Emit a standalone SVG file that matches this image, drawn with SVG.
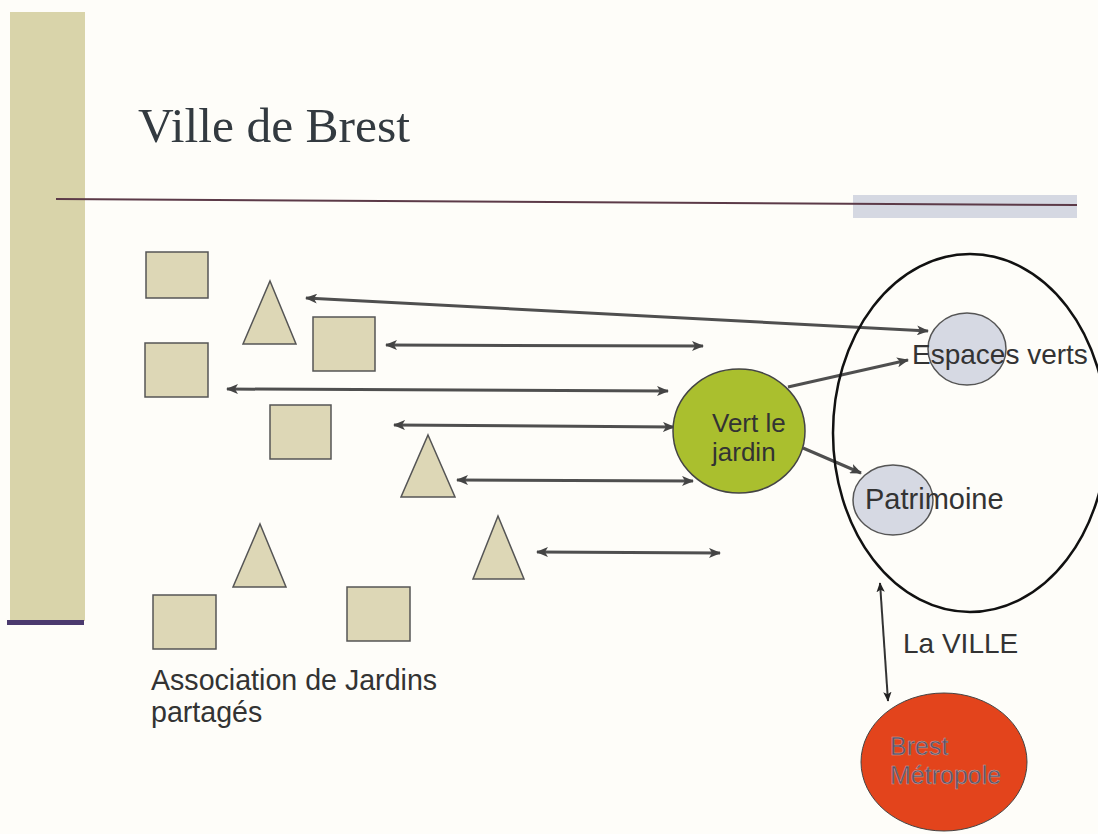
<svg xmlns="http://www.w3.org/2000/svg" width="1098" height="834" viewBox="0 0 1098 834">
<style>
  .shape { fill: #ddd7b6; stroke: #555; stroke-width: 1.5; }
  .conn { stroke: #4f4f4f; stroke-width: 3; fill: none; }
  .thin { stroke: #333; stroke-width: 2; fill: none; }
  .lbl { font-family: "Liberation Sans", Arial, sans-serif; fill: #333; }
  .sub { fill: #d6d9e3; stroke: #555; stroke-width: 1.5; }
  .bm { font-family: "Liberation Sans", Arial, sans-serif; fill: #58536c; stroke: #c9a9a0; stroke-width: 0.4; }
</style>
<defs>
  <marker id="ah" markerUnits="userSpaceOnUse" viewBox="0 0 12 10" markerWidth="12" markerHeight="10" refX="11" refY="5" orient="auto-start-reverse">
    <path d="M0,0 L12,5 L0,10 L3,5 z" fill="#444"/>
  </marker>
  <marker id="ahs" markerUnits="userSpaceOnUse" viewBox="0 0 12 10" markerWidth="10" markerHeight="9" refX="11" refY="5" orient="auto-start-reverse">
    <path d="M0,0 L12,5 L0,10 L3,5 z" fill="#222"/>
  </marker>
</defs>
<rect width="1098" height="834" fill="#fefdf9"/>

<g id="decor">
  <rect x="10" y="12" width="75" height="609" fill="#d9d4aa"/>
  <rect x="7" y="620" width="77" height="5" fill="#4b3a6e"/>
  <rect x="853" y="195" width="224" height="23" fill="#d5d8e2"/>
  <line x1="56" y1="199" x2="1077" y2="205" stroke="#5c3a48" stroke-width="2"/>
  <text x="138" y="142" font-family="'Liberation Serif', 'Times New Roman', serif" font-size="49.5" fill="#333a40">Ville de Brest</text>
</g>

<g id="connectors">
  <line class="conn" x1="306" y1="298" x2="928" y2="331" marker-start="url(#ah)" marker-end="url(#ah)"/>
  <line class="conn" x1="386" y1="345" x2="703" y2="346" marker-start="url(#ah)" marker-end="url(#ah)"/>
  <line class="conn" x1="227" y1="389" x2="668" y2="391" marker-start="url(#ah)" marker-end="url(#ah)"/>
  <line class="conn" x1="394" y1="425" x2="674" y2="427" marker-start="url(#ah)" marker-end="url(#ah)"/>
  <line class="conn" x1="457" y1="480" x2="693" y2="481" marker-start="url(#ah)" marker-end="url(#ah)"/>
  <line class="conn" x1="537" y1="552" x2="720" y2="553" marker-start="url(#ah)" marker-end="url(#ah)"/>
  <line class="conn" x1="788" y1="387" x2="908" y2="360" marker-end="url(#ah)"/>
  <line class="conn" x1="803" y1="448" x2="861" y2="473" marker-end="url(#ah)"/>
  <line class="thin" x1="880" y1="583" x2="888" y2="701" marker-start="url(#ahs)" marker-end="url(#ahs)"/>
</g>

<g id="associations">
  <rect class="shape" x="146" y="252" width="62" height="46"/>
  <rect class="shape" x="145" y="343" width="63" height="54"/>
  <rect class="shape" x="313" y="317" width="62" height="54"/>
  <rect class="shape" x="270" y="405" width="61" height="54"/>
  <rect class="shape" x="153" y="595" width="63" height="54"/>
  <rect class="shape" x="347" y="587" width="63" height="54"/>
  <polygon class="shape" points="270,281 296,344 243,344"/>
  <polygon class="shape" points="428,435 455,497 401,497"/>
  <polygon class="shape" points="260,524 286,587 233,587"/>
  <polygon class="shape" points="498,516 524,579 473,579"/>
  <text class="lbl" x="151" y="690" font-size="28.6">Association de Jardins</text>
  <text class="lbl" x="151" y="722" font-size="28.6">partagés</text>
</g>

<g id="vert-le-jardin">
  <ellipse cx="739" cy="431" rx="66" ry="62" fill="#aabf2e" stroke="#444" stroke-width="1.5"/>
  <text class="lbl" x="712" y="432" font-size="26">Vert le</text>
  <text class="lbl" x="712" y="461" font-size="26">jardin</text>
</g>

<g id="la-ville">
  <ellipse cx="970" cy="433" rx="137" ry="179" fill="none" stroke="#111" stroke-width="2.5"/>
  <text class="lbl" x="903" y="653" font-size="28">La VILLE</text>
</g>

<g id="espaces-verts">
  <ellipse class="sub" cx="967" cy="349" rx="39" ry="36"/>
  <text class="lbl" x="912" y="364" font-size="28">Espaces verts</text>
</g>

<g id="patrimoine">
  <ellipse class="sub" cx="893" cy="500" rx="40" ry="35"/>
  <text class="lbl" x="865" y="509" font-size="29">Patrimoine</text>
</g>

<g id="brest-metropole">
  <ellipse cx="944" cy="762" rx="83" ry="69" fill="#e3441c" stroke="#444" stroke-width="1"/>
  <text class="bm" x="890" y="755" font-size="25">Brest</text>
  <text class="bm" x="890" y="784" font-size="25">Métropole</text>
</g>
</svg>
